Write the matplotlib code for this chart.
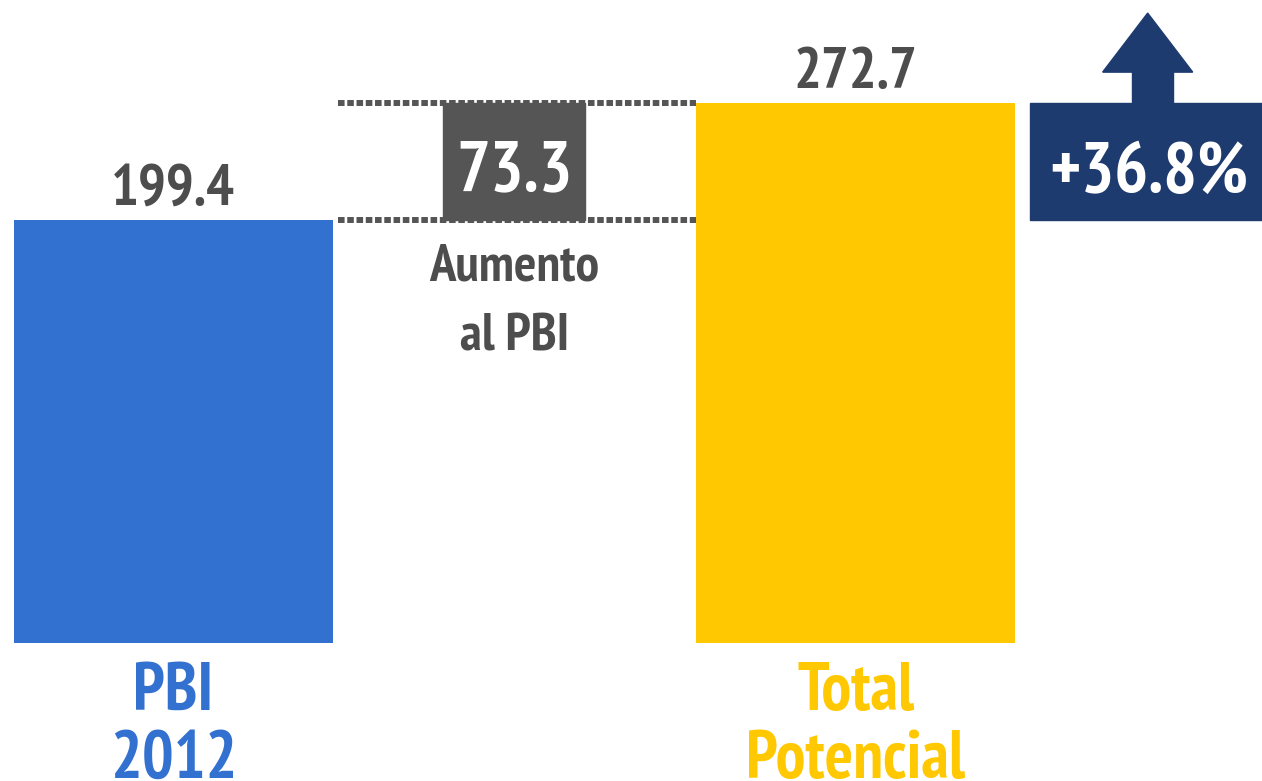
import matplotlib.pyplot as plt
from matplotlib.patches import Rectangle, Polygon

# data
labels = [["PBI", "2012"], ["Total", "Potencial"]]
values = [199.4, 272.7]
increase = 73.3
pct_label = "+36.8%"
gap_label = ["Aumento", "al PBI"]

blue = "#3371D0"
yellow = "#FFC800"
grey = "#555555"
navy = "#1E3B70"
txt_grey = "#4D4D4D"

plt.rcParams['font.family'] = ['PT Sans Narrow', 'Roboto Condensed', 'DejaVu Sans']
plt.rcParams['font.weight'] = 'bold'


def main():
    fig = plt.figure(figsize=(12.62, 7.81), dpi=100)
    ax = fig.add_axes([0, 0, 1, 1])
    ax.set_xlim(-0.508, 3.19)
    ax.set_ylim(-152.1, 337.3)
    ax.axis('off')

    base = -65.6   # bars start below zero in the original
    xs = [0, 2]
    cols = [blue, yellow]
    ax.bar(xs, [v - base for v in values], bottom=base, width=0.935,
           color=cols, zorder=2)

    # value labels above bars
    for x, v in zip(xs, values):
        ax.text(x, v + 9.5, f"{v:.1f}", ha='center', va='baseline',
                fontsize=42, color=txt_grey, zorder=5)

    # category labels below bars
    for x, lab, c in zip(xs, labels, cols):
        for i, line in enumerate(lab):
            ax.text(x, -107.6 - i * 42.6, line, ha='center', va='baseline',
                    fontsize=48, color=c, zorder=5)

    # dotted guide lines
    for v in values:
        ax.plot([0.482, 1.532], [v, v], color=grey, lw=4.3,
                dashes=(1.1, 0.45), solid_capstyle='butt',
                dash_capstyle='butt', zorder=3)

    # increase box
    ax.add_patch(Rectangle((0.79, values[0]), 0.416, increase,
                           color=grey, zorder=4))
    ax.text(1.0, 218.2, f"{increase:.1f}", ha='center', va='baseline',
            fontsize=51, color='white', zorder=5)
    for i, line in enumerate(gap_label):
        ax.text(1.0, 161.8 - i * 44, line, ha='center', va='baseline',
                fontsize=38, color=txt_grey, zorder=5)

    # percent box with arrow
    ax.add_patch(Rectangle((2.51, values[0]), 1.0, increase,
                           color=navy, zorder=4))
    ax.add_patch(Rectangle((2.809, values[1] - 1), 0.12, 21,
                           color=navy, zorder=4))
    ax.add_patch(Polygon([[2.723, 292.1], [2.987, 292.1], [2.855, 329.1]],
                         closed=True, color=navy, zorder=4))
    ax.text(2.858, 217, pct_label, ha='center', va='baseline',
            fontsize=51, color='white', zorder=5)

    fig.savefig("out.png", dpi=100, facecolor='white')


if __name__ == '__main__':
    main()
